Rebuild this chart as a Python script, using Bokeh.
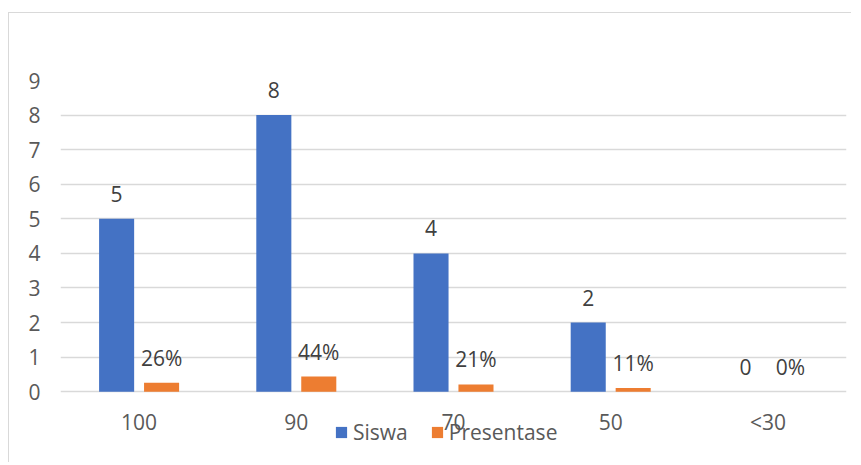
from bokeh.plotting import figure
from bokeh.models import ColumnDataSource, FactorRange, FixedTicker, Legend, LegendItem
from bokeh.transform import dodge
from bokeh.core.properties import value
from bokeh.embed import file_html
from bokeh.resources import INLINE

categories = ["100", "90", "70", "50", "<30"]
siswa = [5, 8, 4, 2, 0]
presentase = [0.26, 0.44, 0.21, 0.11, 0.0]
siswa_labels = ["5", "8", "4", "2", "0"]
presentase_labels = ["26%", "44%", "21%", "11%", "0%"]
y_ticks = [0, 1, 2, 3, 4, 5, 6, 7, 8, 9]

BLUE = "#4472C4"
ORANGE = "#ED7D31"
FONT = "Open Sans"
FS = "21px"

src = ColumnDataSource(dict(cat=categories, siswa=siswa, pres=presentase,
                            sl=siswa_labels, pl=presentase_labels,
                            base=[0] * len(categories)))

p = figure(x_range=FactorRange(*categories, range_padding=0), y_range=(-1.7, 9),
           frame_width=786, frame_height=370,
           min_border_left=51, min_border_top=67, min_border_right=5, min_border_bottom=12,
           output_backend="svg", toolbar_location=None)
p.margin = (12, 0, 0, 8)
p.styles = {"border-top": "1px solid #d9d9d9", "border-left": "1px solid #d9d9d9"}
p.outline_line_color = None
p.background_fill_color = "white"
p.border_fill_color = "white"

off = 0.143
bw = 0.223
r1 = p.vbar(x=dodge("cat", -off, range=p.x_range), top="siswa", width=bw, source=src,
            fill_color=BLUE, line_color=None)
r2 = p.vbar(x=dodge("cat", off, range=p.x_range), top="pres", width=bw, source=src,
            fill_color=ORANGE, line_color=None)

p.text(x=dodge("cat", -off, range=p.x_range), y="siswa", text="sl", source=src,
       text_align="center", text_baseline="middle", y_offset=-25,
       text_font=value(FONT), text_font_size=FS, text_color="#404040")
p.text(x=dodge("cat", off, range=p.x_range), y="pres", text="pl", source=src,
       text_align="center", text_baseline="middle", y_offset=-25,
       text_font=value(FONT), text_font_size=FS, text_color="#404040")

# category labels under the baseline
p.text(x="cat", y="base", text="cat", source=src,
       text_align="center", text_baseline="middle", y_offset=30,
       text_font=value(FONT), text_font_size=FS, text_color="#595959")

p.xaxis.visible = False
p.xgrid.grid_line_color = None
p.ygrid.grid_line_color = "#d9d9d9"
p.ygrid.grid_line_width = 1.5
p.yaxis.ticker = FixedTicker(ticks=y_ticks)
p.ygrid.ticker = FixedTicker(ticks=y_ticks)

ax = p.yaxis[0]
ax.axis_line_color = None
ax.major_tick_line_color = None
ax.minor_tick_line_color = None
ax.major_label_text_font = FONT
ax.major_label_text_font_size = FS
ax.major_label_text_color = "#595959"
ax.major_label_standoff = 14

legend = Legend(items=[LegendItem(label="Siswa", renderers=[r1]),
                       LegendItem(label="Presentase", renderers=[r2])],
                orientation="horizontal", location=(274, 4),
                padding=0, margin=0, spacing=22, label_standoff=5,
                glyph_width=14, glyph_height=14, label_height=21,
                label_text_font=FONT, label_text_font_size=FS,
                label_text_color="#595959", background_fill_alpha=0,
                border_line_color=None)
p.add_layout(legend, "center")

open("out.html", "w").write(file_html(p, INLINE))
